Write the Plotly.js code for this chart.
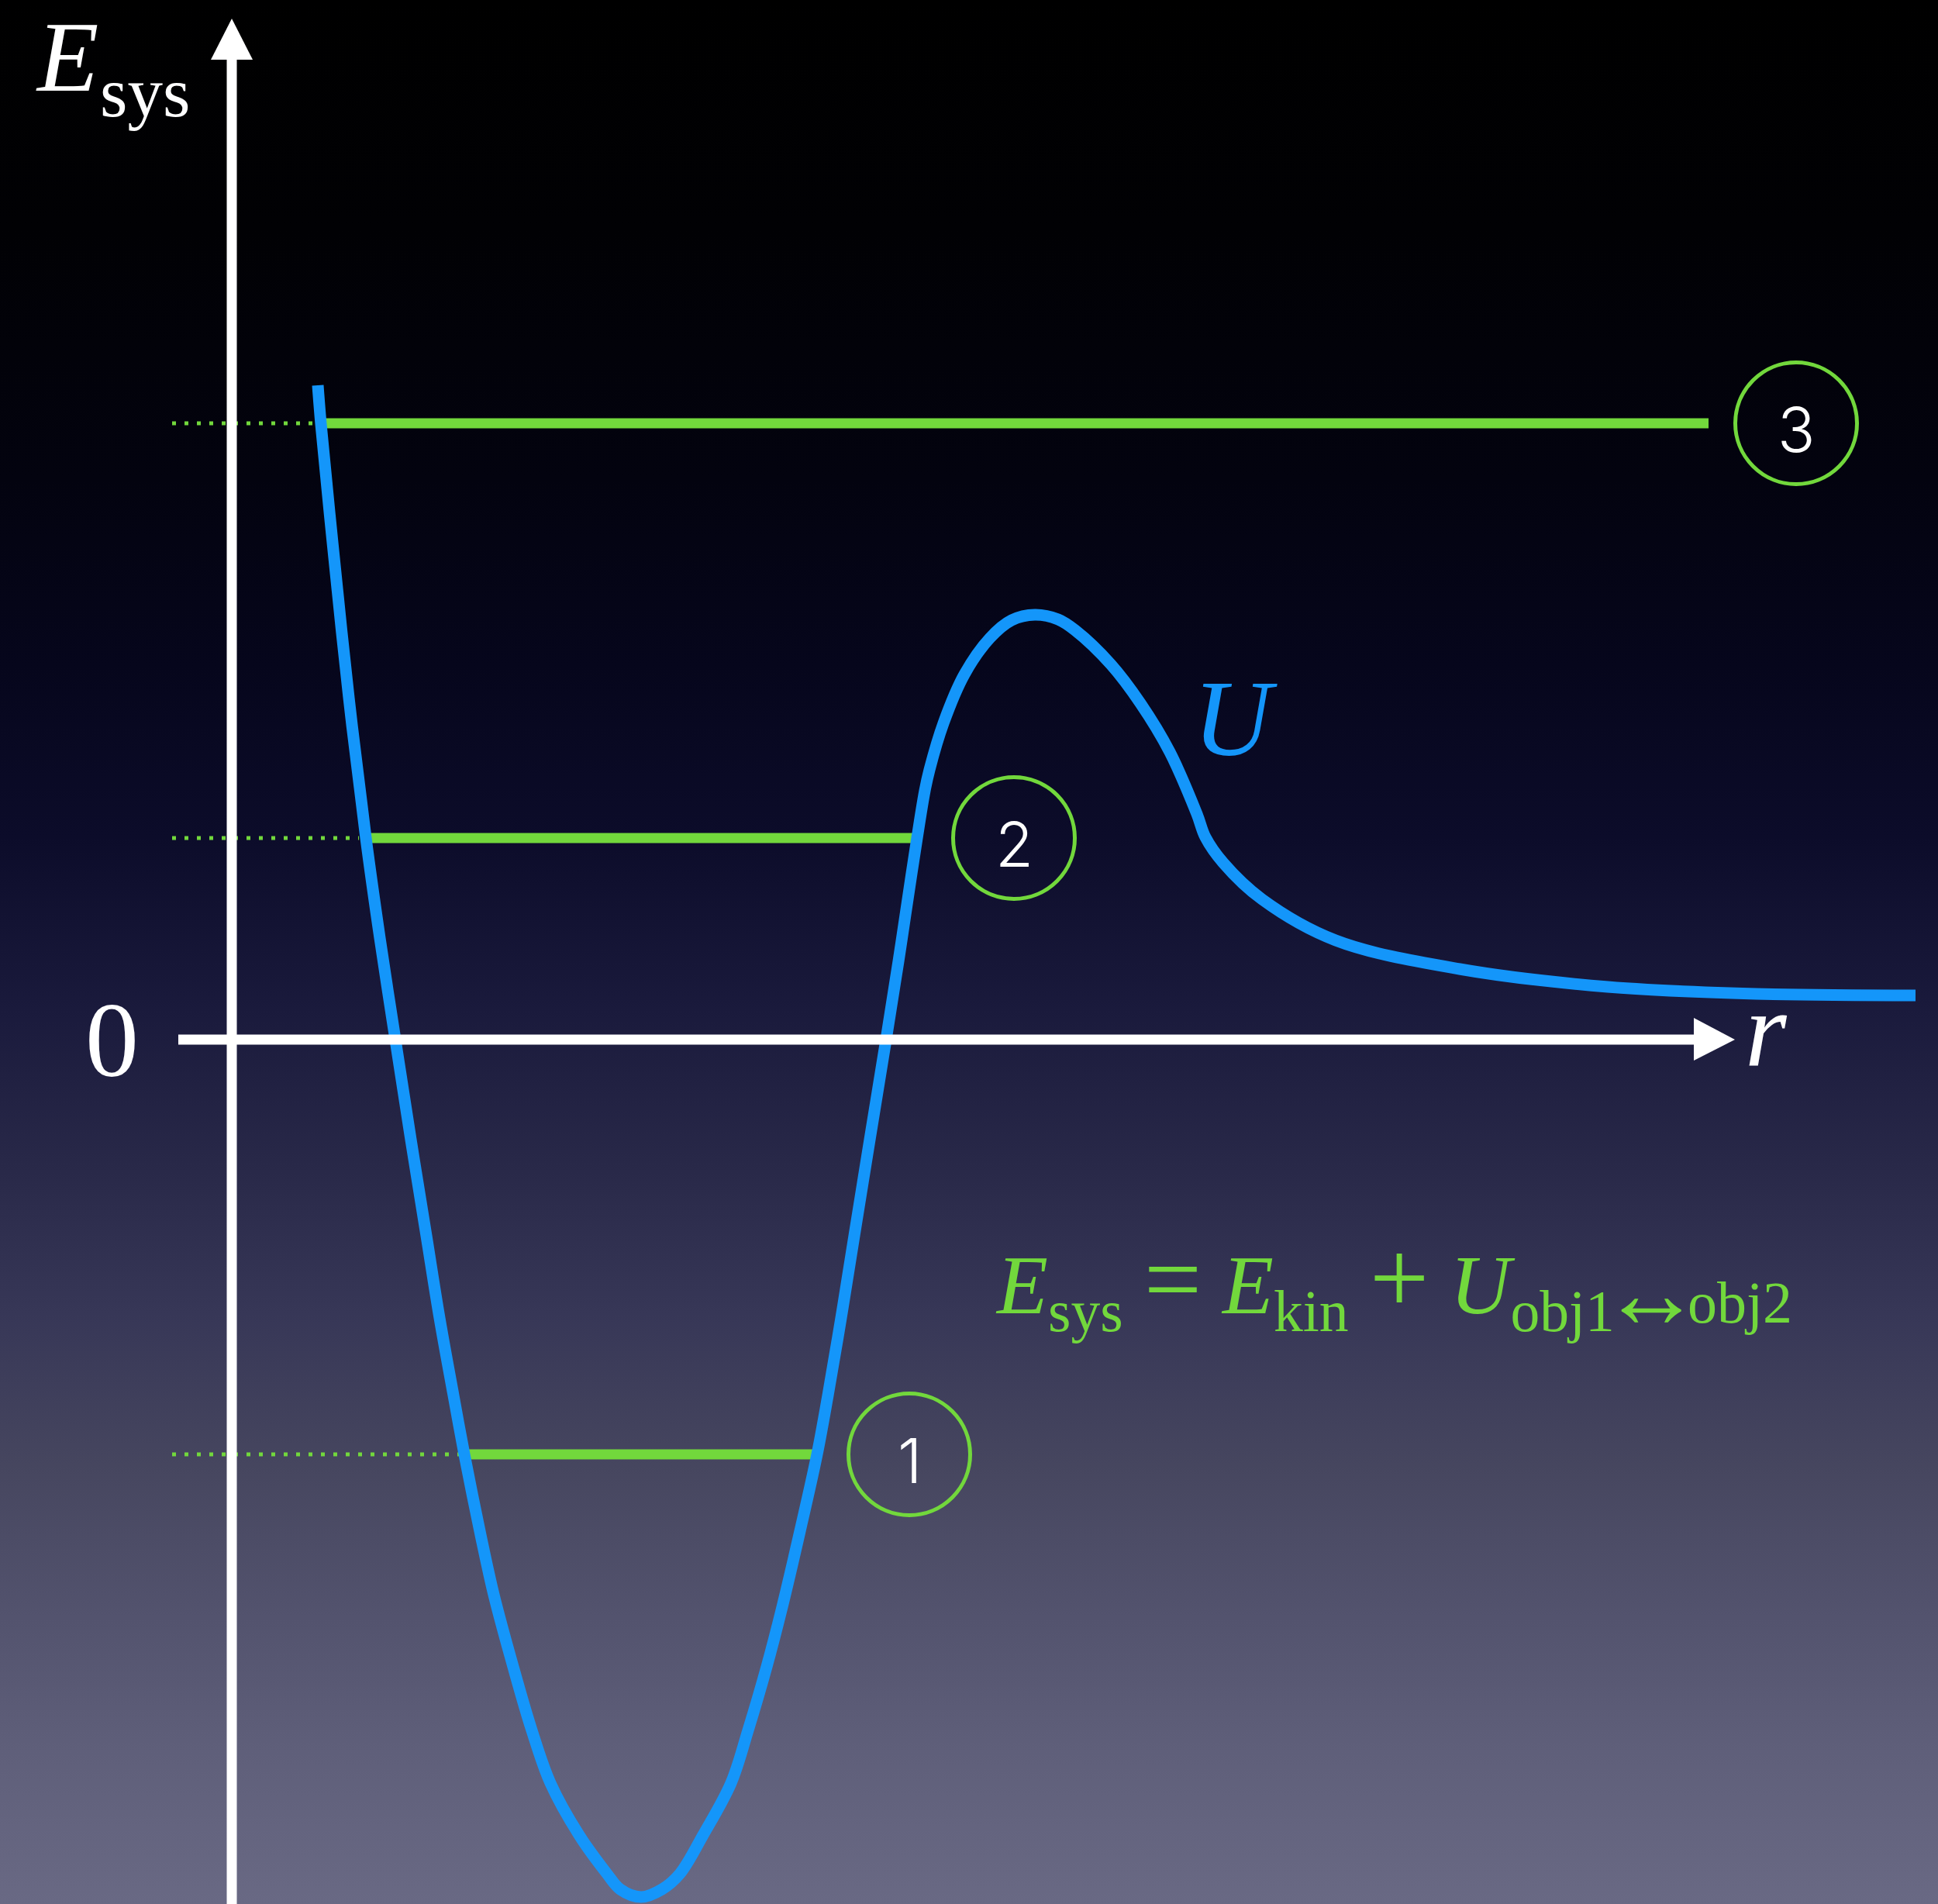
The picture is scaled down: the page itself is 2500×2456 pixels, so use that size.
<!DOCTYPE html>
<html>
<head>
<meta charset="utf-8">
<script src="https://cdn.plot.ly/plotly-3.0.1.min.js"></script>
<style>
  html, body { margin: 0; padding: 0; background: #000; }
  #chart {
    width: 2500px; height: 2456px;
    background: linear-gradient(to bottom,
      #000000 0%, #010104 12%, #03030f 25%, #06061c 35%, #0c0c2a 44%,
      #1a1a3c 53%, #282848 61%, #373757 69%, #46465f 77%, #53536e 85%,
      #5f5f7a 92%, #696984 100%);
  }
</style>
</head>
<body>
<div id="chart"></div>
<script>
// Potential energy curve U(r) (arbitrary units, origin at the axes crossing)
const curveR = [1.11, 1.15, 1.30, 1.51, 1.73, 1.91, 2.11, 2.31, 2.51, 2.68, 2.86, 3.00, 3.21, 3.38,
                3.63, 3.87, 4.11, 4.48, 4.84, 5.01, 5.28,
                5.55, 5.78, 6.08, 6.44, 6.66, 6.90, 7.10, 7.33, 7.55, 7.69, 7.86, 8.03, 8.23, 8.44, 8.60, 8.69,
                8.84, 8.94, 9.00, 9.18, 9.45, 9.78, 10.06, 10.36, 10.66, 10.88, 11.34, 11.72, 12.10, 12.45,
                12.56, 12.79, 13.29, 14.24, 15.84, 17.75, 19.66, 21.72];
const curveU = [8.44, 7.94, 6.41, 4.41, 2.60, 1.31, 0.00, -1.29, -2.53, -3.59, -4.59, -5.35, -6.39, -7.16,
                -8.09, -8.91, -9.59, -10.26, -10.76, -10.96, -11.06,
                -10.96, -10.76, -10.26, -9.59, -8.91, -8.09, -7.32, -6.34, -5.35, -4.59, -3.59, -2.53, -1.29, 0.00, 1.01, 1.61,
                2.60, 3.21, 3.48, 4.08, 4.71, 5.18, 5.41, 5.48, 5.42, 5.28, 4.84, 4.34, 3.71, 2.91,
                2.61, 2.28, 1.81, 1.28, 0.91, 0.68, 0.59, 0.57];

// System energy levels
const levelNames = ['1', '2', '3'];
const levelE     = [-5.35, 2.60, 7.95];
const levelRmin  = [3.02, 1.72, 1.14];
const levelRmax  = [7.51, 8.82, 19.05];
const labelR     = [8.74, 10.09, 20.18];
const dotStartR  = -0.77;

const green = '#72d83c';
const blue = '#1496fa';
const serif = 'Liberation Serif, Times New Roman, serif';

const traces = [];
levelE.forEach((e, i) => {
  traces.push({
    x: [dotStartR, levelRmin[i] - 0.08], y: [e, e], mode: 'lines', hoverinfo: 'skip',
    line: {color: green, width: 5, dash: '5px,11px'}
  });
  traces.push({
    x: [levelRmin[i], levelRmax[i]], y: [e, e], mode: 'lines', hoverinfo: 'skip',
    line: {color: green, width: 13}
  });
});
traces.push({
  x: curveR, y: curveU, mode: 'lines', hoverinfo: 'skip',
  line: {color: blue, width: 15, shape: 'spline', smoothing: 1, simplify: false}
});
traces.push({
  x: labelR, y: levelE, mode: 'markers', hoverinfo: 'skip', cliponaxis: false,
  marker: {symbol: 'circle-open', size: 157, color: green, line: {width: 5, color: green}}
});

const shapes = [
  // vertical axis
  {type: 'line', xref: 'x', yref: 'y', x0: 0, x1: 0, y0: -11.3, y1: 12.66, line: {color: '#ffffff', width: 13}},
  {type: 'path', xref: 'x', yref: 'y', path: 'M 0 13.17 L -0.27 12.64 L 0.27 12.64 Z',
   fillcolor: '#ffffff', line: {width: 0}},
  // horizontal axis
  {type: 'line', xref: 'x', yref: 'y', x0: -0.69, x1: 18.88, y0: 0, y1: 0, line: {color: '#ffffff', width: 13}},
  {type: 'path', xref: 'x', yref: 'y', path: 'M 19.39 0 L 18.86 0.28 L 18.86 -0.27 Z',
   fillcolor: '#ffffff', line: {width: 0}}
];

const annotations = [
  {x: -2.54, y: 13.41, xanchor: 'left', yanchor: 'top', text: 'E', showarrow: false, borderpad: 0,
   font: {family: serif, size: 130, color: '#ffffff', style: 'italic'}},
  {x: -1.71, y: 12.22, xanchor: 'left', yanchor: 'middle', text: 'sys', showarrow: false, borderpad: 0,
   font: {family: serif, size: 91, color: '#ffffff'}},
  {x: -1.55, y: 0.0, xanchor: 'center', yanchor: 'middle', text: '0', showarrow: false, borderpad: 0,
   font: {family: serif, size: 138, color: '#ffffff'}},
  {x: 19.51, y: 0.14, xanchor: 'left', yanchor: 'middle', text: 'r', showarrow: false, borderpad: 0,
   font: {family: serif, size: 138, color: '#ffffff', style: 'italic'}},
  {x: 12.39, y: 4.15, xanchor: 'left', yanchor: 'middle', text: 'U', showarrow: false, borderpad: 0,
   font: {family: serif, size: 140, color: blue, style: 'italic'}},
  {x: 9.84, y: -3.12, xanchor: 'left', yanchor: 'middle', showarrow: false, borderpad: 0,
   text: '<i>E</i><sub>sys</sub> <span style="font-size:132px">=</span> <i>E</i><sub>kin</sub> ' +
         '<span style="font-size:136px">+</span> <i>U</i><sub>obj1</sub>',
   font: {family: serif, size: 108, color: green}},
  {x: 18.31, y: -3.27, xanchor: 'center', yanchor: 'middle', showarrow: false, borderpad: 0,
   width: 84, text: '\u2194', font: {family: serif, size: 130, color: green}},
  {x: 18.77, y: -3.39, xanchor: 'left', yanchor: 'middle', showarrow: false, borderpad: 0,
   text: 'obj2', font: {family: serif, size: 76, color: green}}
];
levelNames.forEach((name, i) => {
  annotations.push({
    x: labelR[i], y: levelE[i], xanchor: 'center', yanchor: 'middle', yshift: -7, text: name,
    showarrow: false, borderpad: 0,
    font: {family: 'Inter, Roboto, Helvetica, sans-serif', size: 80, color: '#ffffff', weight: 300}
  });
});

const layout = {
  width: 2500, height: 2456,
  margin: {l: 0, r: 0, t: 0, b: 0, pad: 0},
  paper_bgcolor: 'rgba(0,0,0,0)', plot_bgcolor: 'rgba(0,0,0,0)',
  showlegend: false,
  xaxis: {range: [-2.99, 22.01], visible: false, fixedrange: true},
  yaxis: {range: [-11.15, 13.41], visible: false, fixedrange: true},
  shapes: shapes,
  annotations: annotations
};

Plotly.newPlot('chart', traces, layout, {displayModeBar: false, staticPlot: true});
</script>
</body>
</html>
